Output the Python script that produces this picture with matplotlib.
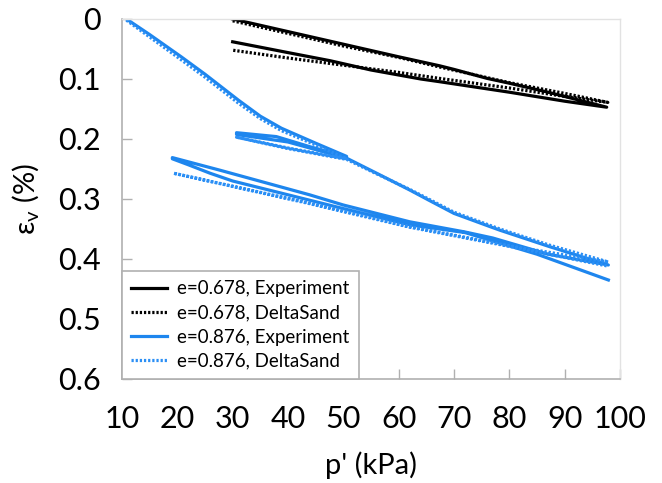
import matplotlib
matplotlib.use("Agg")
import matplotlib.pyplot as plt

plt.rcParams['font.family'] = ['Lato', 'DejaVu Sans']

# ---- data (p' in kPa, volumetric strain in %) ----
# e = 0.678, experiment: load 30 -> 98, unload back to 30
blk_exp_p   = [30, 40, 50, 60, 67.4, 70, 76, 80, 87, 97.6, 90, 80, 67.4, 64, 55, 47.6, 40, 30]
blk_exp_eps = [0.0, 0.021, 0.042, 0.063, 0.078, 0.084, 0.099, 0.107, 0.122, 0.147,
               0.137, 0.122, 0.1045, 0.100, 0.085, 0.0695, 0.056, 0.038]
# e = 0.678, DeltaSand
blk_ds_p    = [30, 40, 50, 60, 67.4, 80, 90, 97.8, 90, 80, 67.4, 60, 50, 40, 30]
blk_ds_eps  = [0.003, 0.024, 0.045, 0.064, 0.080, 0.106, 0.124, 0.139,
               0.129, 0.115, 0.099, 0.089, 0.077, 0.065, 0.052]

# e = 0.876, experiment: virgin load 10.8 -> 50.6, unload to 30.7, reload to 98, unload to 19.1, reload to 98
blu_exp_p   = [10.8, 15, 20.7, 25, 31, 35, 38.8, 45, 50.6,
               44, 37.9, 30.7, 30.7, 40, 50.6,
               56, 62, 65.4, 70, 76.5, 78.3, 87.3, 97.9,
               87, 77, 72, 62, 50, 43.9, 27.7, 19.1,
               19.1, 22, 25.9, 30, 43.9, 50, 62, 72, 85, 97.9]
blu_exp_eps = [0.0, 0.026, 0.063, 0.092, 0.135, 0.162, 0.182, 0.207, 0.229,
               0.213, 0.196, 0.1895, 0.1925, 0.205, 0.232,
               0.257, 0.285, 0.3017, 0.324, 0.346, 0.352, 0.3795, 0.41,
               0.392, 0.365, 0.355, 0.338, 0.310, 0.293, 0.252, 0.231,
               0.233, 0.243, 0.257, 0.270, 0.302, 0.316, 0.343, 0.356, 0.392, 0.435]
# e = 0.876, DeltaSand
blu_ds_p    = [10.8, 15, 20.7, 25, 31, 35, 38.8, 45, 50.6,
               40, 30.7, 40, 50.6,
               56, 62, 65.4, 70, 78.3, 87.3, 97.9,
               80, 62, 44, 19.3, 44, 62, 80, 97.9]
blu_ds_eps  = [0.002, 0.030, 0.068, 0.097, 0.140, 0.166, 0.186, 0.210, 0.233,
               0.215, 0.197, 0.216, 0.234,
               0.258, 0.284, 0.300, 0.322, 0.350, 0.377, 0.405,
               0.378, 0.346, 0.307, 0.257, 0.308, 0.347, 0.379, 0.412]

labels = ['e=0.678, Experiment', 'e=0.678, DeltaSand',
          'e=0.876, Experiment', 'e=0.876, DeltaSand']

BLUE = '#1e86ee'
dot = (0, (0.7, 0.6))

fig = plt.figure(figsize=(6.62, 4.83), dpi=100)
ax = fig.add_axes([122/662, 1-379/483, (620-122)/662, (379-19)/483])

ax.plot(blk_exp_p, blk_exp_eps, color='black', lw=2.3, label=labels[0], solid_joinstyle='round')
ax.plot(blk_ds_p, blk_ds_eps, color='black', lw=2.3, ls=dot, label=labels[1], dash_capstyle='butt')
ax.plot(blu_exp_p, blu_exp_eps, color=BLUE, lw=2.3, label=labels[2], solid_joinstyle='round')
ax.plot(blu_ds_p, blu_ds_eps, color='#2b8ff5', lw=2.3, ls=dot, label=labels[3], dash_capstyle='butt')

ax.set_xlim(10, 100)
ax.set_ylim(0.6, 0)
ax.set_xticks(range(10, 101, 10))
ax.set_yticks([0, 0.1, 0.2, 0.3, 0.4, 0.5, 0.6])
ax.set_yticklabels(['0', '0.1', '0.2', '0.3', '0.4', '0.5', '0.6'])

for s in ['left', 'bottom']:
    ax.spines[s].set_color('#b0b0b0')
    ax.spines[s].set_linewidth(1.2)
for s in ['top', 'right']:
    ax.spines[s].set_color('#e2e2e2')
    ax.spines[s].set_linewidth(1.0)

ax.tick_params(axis='both', direction='in', length=7, width=1.0, color='#b0b0b0',
               labelsize=22)
ax.tick_params(axis='x', pad=19)
ax.tick_params(axis='y', pad=15)

ax.set_xlabel("p' (kPa)", fontsize=21)
ax.xaxis.set_label_coords(0.5, -0.2)
ax.set_ylabel('ε$_\\mathregular{v}$ (%)', fontsize=21)
ax.yaxis.set_label_coords(-0.16, 0.5)

leg = ax.legend(loc='lower left', bbox_to_anchor=(0, 0), borderaxespad=0,
                fontsize=13.5, frameon=True, fancybox=False, edgecolor='#b0b0b0',
                framealpha=1, handlelength=1.9, handletextpad=0.55,
                labelspacing=0.38, borderpad=0.5)
leg.get_frame().set_linewidth(1.2)

fig.savefig('out.png', dpi=100)
